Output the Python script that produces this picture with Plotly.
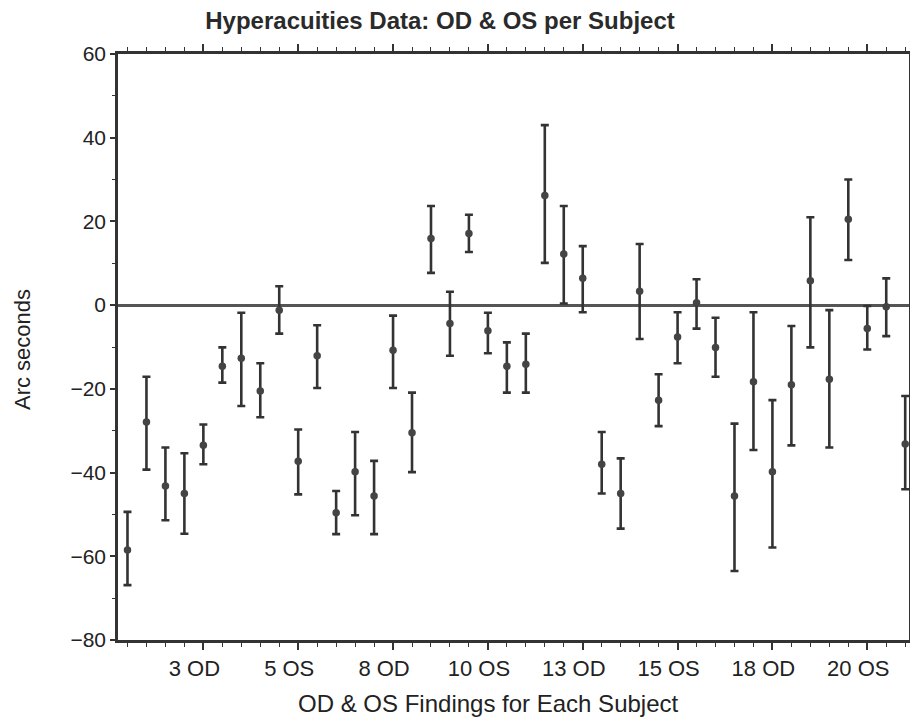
import plotly.graph_objects as go

# ---- data ----
subjects = [f"{n} {eye}" for n in range(1, 22) for eye in ("OD", "OS")]

means = [-58.5, -27.9, -43.2, -45.0, -33.5, -14.6, -12.7, -20.5, -1.2, -37.3,
         -12.1, -49.6, -39.8, -45.6, -10.8, -30.5, 15.9, -4.4, 17.1, -6.1,
         -14.6, -14.1, 26.2, 12.2, 6.4, -38.0, -45.0, 3.3, -22.7, -7.6,
         0.6, -10.1, -45.6, -18.3, -39.8, -19.0, 5.8, -17.7, 20.5, -5.6,
         -0.4, -33.2]

err_up = [9.1, 10.8, 9.2, 9.6, 5.0, 4.5, 10.9, 6.6, 5.7, 7.6,
          7.3, 5.2, 9.5, 8.4, 8.3, 9.6, 7.8, 7.6, 4.5, 4.3,
          5.7, 7.3, 16.8, 11.5, 7.7, 7.7, 8.4, 11.3, 6.2, 5.9,
          5.6, 7.1, 17.3, 16.6, 17.1, 14.0, 15.2, 16.5, 9.5, 5.4,
          6.8, 11.5]

err_down = [8.4, 11.4, 8.2, 9.6, 4.5, 3.9, 11.4, 6.3, 5.6, 7.9,
            7.7, 5.1, 10.4, 9.1, 9.0, 9.4, 8.2, 7.7, 4.4, 5.4,
            6.3, 6.8, 16.1, 11.8, 8.1, 7.0, 8.4, 11.4, 6.2, 6.3,
            6.2, 7.0, 17.9, 16.3, 18.1, 14.5, 15.9, 16.3, 9.7, 5.0,
            7.0, 10.8]

labelled_idx = [4, 9, 14, 19, 24, 29, 34, 39]
y_ticks = [60, 40, 20, 0, -20, -40, -60, -80]

title_text = "Hyperacuities Data: OD & OS per Subject"
x_title = "OD & OS Findings for Each Subject"
y_title = "Arc seconds"

# ---- figure ----
xpos = list(range(len(subjects)))
FONT = "Liberation Sans, Arial, Helvetica, sans-serif"
INK = "#333333"
TXT = "#222222"

fig = go.Figure()
fig.add_trace(go.Scatter(
    x=xpos, y=means, mode="markers",
    customdata=subjects,
    hovertemplate="%{customdata}: %{y}<extra></extra>",
    marker=dict(color="#444444", size=7.5),
    error_y=dict(type="data", symmetric=False, array=err_up, arrayminus=err_down,
                 color=INK, thickness=2.6, width=4),
    showlegend=False,
))

fig.update_layout(
    width=910, height=717,
    margin=dict(l=118, r=1, t=54, b=77, autoexpand=False),
    paper_bgcolor="white", plot_bgcolor="white",
    font=dict(family=FONT, color=TXT, size=22),
    title=dict(text=f"<b>{title_text}</b>", x=440 / 910, xanchor="center",
               y=1 - 21 / 717, yanchor="middle", xref="container", yref="container",
               font=dict(size=24, family=FONT, color="#2a2a2a")),
)

fig.update_xaxes(
    range=[-0.5, 41.2],
    automargin=False,
    tickmode="array",
    tickvals=labelled_idx,
    ticktext=[subjects[i] for i in labelled_idx],
    ticks="outside", ticklen=7, tickwidth=1.5, tickcolor=INK,
    ticklabelshift=-9,
    tickfont=dict(size=22, family=FONT, color=TXT),
    minor=dict(tickmode="linear", tick0=0, dtick=1, ticks="outside",
               ticklen=4, tickwidth=1.2, tickcolor=INK, showgrid=False),
    showline=True, linewidth=2.5, linecolor=INK, mirror="ticks",
    showgrid=False, zeroline=False,
)

fig.update_yaxes(
    range=[-80, 60],
    automargin=False,
    tickmode="array", tickvals=y_ticks,
    ticks="outside", ticklen=5, tickwidth=1.5, tickcolor=INK,
    tickfont=dict(size=21, family=FONT, color=TXT),
    minor=dict(tickmode="linear", tick0=0, dtick=10, ticks="outside",
               ticklen=3, tickwidth=1.2, tickcolor=INK, showgrid=False),
    showline=True, linewidth=2.5, linecolor=INK, mirror="ticks",
    showgrid=False,
    zeroline=True, zerolinecolor="#555555", zerolinewidth=3,
)

fig.add_annotation(text=x_title, xref="paper", yref="paper",
                   x=(488 - 118) / 791, y=(640 - 703) / 586,
                   xanchor="center", yanchor="middle", showarrow=False,
                   font=dict(size=24, family=FONT, color=TXT))
fig.add_annotation(text=y_title, xref="paper", yref="paper",
                   x=(22 - 118) / 791, y=(640 - 350) / 586, textangle=-90,
                   xanchor="center", yanchor="middle", showarrow=False,
                   font=dict(size=22, family=FONT, color=TXT))

fig.write_html("out.html")
